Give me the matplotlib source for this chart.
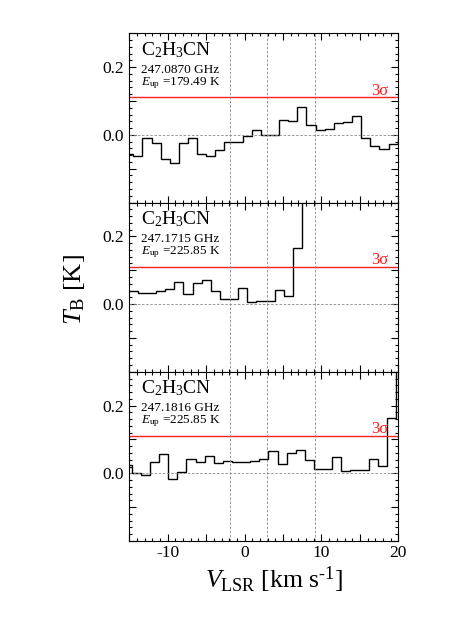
import numpy as np
import matplotlib
matplotlib.use("Agg")
from matplotlib import pyplot as plt
from matplotlib.ticker import FixedLocator, MultipleLocator

plt.rcParams["font.family"] = ["Liberation Serif", "DejaVu Serif"]
plt.rcParams["mathtext.fontset"] = "custom"
plt.rcParams["mathtext.rm"] = "Liberation Serif"
plt.rcParams["mathtext.it"] = "Liberation Serif:italic"

# channel edges (km/s) and brightness temperatures (K) for each transition
edges_1 = [-15.67, -14.48, -13.29, -12.11, -10.92, -9.74, -8.55, -7.36, -6.18, -4.99,
           -3.81, -2.62, -1.43, -0.25, 0.94, 2.12, 3.31, 4.50, 5.68, 6.87,
           8.05, 9.24, 10.43, 11.61, 12.80, 13.98, 15.17, 16.36, 17.54, 18.73,
           19.91, 21.10]
tb_1 = [-0.056, -0.063, -0.010, -0.024, -0.070, -0.083, -0.024, -0.009, -0.056, -0.062,
        -0.044, -0.021, -0.021, -0.004, 0.015, 0.000, 0.000, 0.043, 0.041, 0.081,
        0.029, 0.013, 0.018, 0.034, 0.039, 0.055, -0.010, -0.034, -0.041, -0.028,
        -0.007]

edges_2 = [-15.09, -13.90, -12.71, -11.53, -10.34, -9.16, -7.97, -6.78, -5.60, -4.41,
           -3.23, -2.04, -0.85, 0.33, 1.52, 2.70, 3.89, 5.08, 6.26, 7.45, 8.63]
tb_2 = [0.038, 0.034, 0.032, 0.038, 0.044, 0.066, 0.029, 0.063, 0.070, 0.040,
        0.014, 0.014, 0.047, 0.007, 0.010, 0.010, 0.042, 0.023, 0.165, 0.40]

edges_3 = [-15.88, -14.69, -13.50, -12.32, -11.13, -9.95, -8.76, -7.57, -6.39, -5.20,
           -4.02, -2.83, -1.64, -0.46, 0.73, 1.91, 3.10, 4.29, 5.47, 6.66,
           7.84, 9.03, 10.22, 11.40, 12.59, 13.77, 14.96, 16.15, 17.33, 18.52,
           19.70, 20.89]
tb_3 = [0.024, 0.000, -0.005, 0.034, 0.057, -0.017, 0.005, 0.043, 0.034, 0.052,
        0.030, 0.037, 0.034, 0.032, 0.037, 0.043, 0.065, 0.028, 0.061, 0.068,
        0.040, 0.014, 0.014, 0.047, 0.007, 0.010, 0.010, 0.042, 0.023, 0.164,
        0.40]

freqs = ["247.0870 GHz", "247.1715 GHz", "247.1816 GHz"]
eups = ["179.49 K", "225.85 K", "225.85 K"]
species = r"C$_2$H$_3$CN"
sigma3 = 0.111
vlines = [-1.9, 2.95, 9.2]

xticks = [-15, -10, -5, 0, 5, 10, 15, 20]
xticklabels = ["", "-10", "", "0", "", "10", "", "20"]
yticks = [-0.2, -0.1, 0.0, 0.1, 0.2, 0.3]
yticklabels = ["", "", "0.0", "", "0.2", ""]

spectra = [(edges_1, tb_1), (edges_2, tb_2), (edges_3, tb_3)]

fig = plt.figure(figsize=(4.57, 6.41), dpi=100)
left, width = 0.283, 0.5886
bottom, panel_h = 0.156, 0.264

for i, (edges, tb) in enumerate(spectra):
    ax = fig.add_axes([left, bottom + (2 - i) * panel_h, width, panel_h])
    ax.stairs(tb, edges, baseline=None, color="black", linewidth=1.0)
    ax.axhline(sigma3, color="#ff2020", linewidth=1.0)
    ax.axhline(0.0, color="#888888", linewidth=0.6, linestyle=(0, (3, 2)))
    for v in vlines:
        ax.axvline(v, color="#888888", linewidth=0.6, linestyle=(0, (3, 2)))
    ax.set_xlim(-15, 20)
    ax.set_ylim(-0.2, 0.3)

    ax.xaxis.set_major_locator(FixedLocator(xticks))
    ax.xaxis.set_minor_locator(MultipleLocator(1))
    ax.yaxis.set_major_locator(FixedLocator(yticks))
    ax.yaxis.set_minor_locator(MultipleLocator(0.02))
    ax.set_yticklabels(yticklabels)
    if i == 2:
        ax.set_xticklabels(xticklabels)
    else:
        ax.set_xticklabels([])
    ax.tick_params(which="both", direction="in", top=True, right=True,
                   labelsize=12.5, width=0.8)
    ax.tick_params(which="major", length=5, pad=4)
    ax.tick_params(which="minor", length=2.5)
    ax.tick_params(axis="x", pad=3)

    ax.text(0.043, 0.872, species, transform=ax.transAxes, fontsize=14,
            va="baseline", ha="left")
    ax.text(0.043, 0.767, freqs[i], transform=ax.transAxes, fontsize=9.5,
            va="baseline", ha="left")
    ax.text(0.043, 0.694, r"$E_{\rm up}$ =" + eups[i], transform=ax.transAxes,
            fontsize=9.5, va="baseline", ha="left")
    ax.text(0.963, sigma3 + 0.008, "3σ", color="#ff2020", fontsize=12,
            transform=ax.get_yaxis_transform(), va="baseline", ha="right")

fig.text(0.163, 0.548, r"$T_{\rm B}$ [K]", rotation=90, fontsize=19,
         ha="center", va="center")
fig.text(0.6, 0.083, r"$V_{\rm LSR}$ [km s$^{\text{-1}}$]", fontsize=18.5,
         ha="center", va="baseline")

fig.savefig("out.png", dpi=100)
